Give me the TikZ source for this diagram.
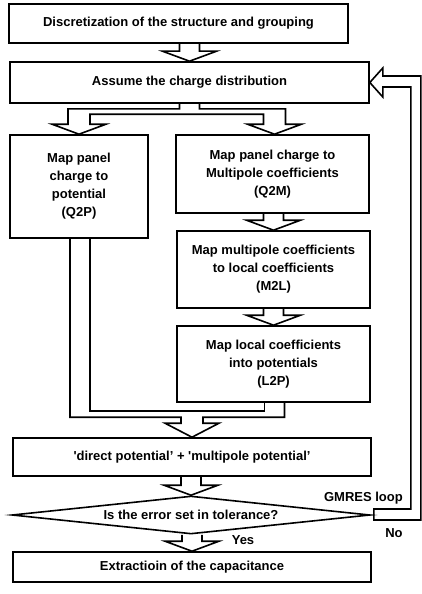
\documentclass[tikz,border=0pt]{standalone}
\usepackage{fontspec}
\setmainfont{Liberation Sans}
\usetikzlibrary{calc,shapes.geometric,backgrounds}
\newcommand\hdown[2]{% #1 = tip point, #2 = source node
  \path (#1) ++(-10,-10) coordinate (hdA) ++(20,0) coordinate (hdB);
  \draw[blk] (hdA |- #2.south) -- (hdA) -- ++(-17,0) -- (#1) -- ($(hdB)+(17,0)$) -- (hdB) -- (hdB |- #2.south);}
\begin{document}
\begin{tikzpicture}[x=1pt,y=-1pt,
  font=\fontsize{13}{18}\selectfont\bfseries,
  box/.style={draw, line width=1.6pt, inner sep=0pt, align=center},
  blk/.style={draw, line width=1.6pt, line join=miter},
  lbl/.style={inner sep=0pt}]
\useasboundingbox (0,0) rectangle (422,594);

\node[box, minimum width=339, minimum height=39] (b1) at (178.5,23.5) {Discretization of the structure and grouping};
\node[box, minimum width=359, minimum height=41] (b2) at (189.5,82.5) {Assume the charge distribution};
\node[box, minimum width=138, minimum height=103] (q2p) at (79,186.5) {Map panel\\charge to\\potential\\(Q2P)};
\node[box, minimum width=193, minimum height=78] (q2m) at (272.5,174) {Map panel charge to\\Multipole coefficients\\(Q2M)};
\node[box, minimum width=193, minimum height=77] (m2l) at (273.5,269.5) {Map multipole coefficients\\to local coefficients\\(M2L)};
\node[box, minimum width=193, minimum height=76] (l2p) at (273.5,364) {Map local coefficients\\into potentials\\(L2P)};
\node[box, minimum width=358, minimum height=38] (dp) at (192,457) {\textquotesingle direct potential' + \textquotesingle multipole potential'};
\node[box, diamond, aspect=9.4, minimum width=358, minimum height=38, fill=white] (dia) at (191,515) {Is the error set in tolerance?};
\node[box, minimum width=358, minimum height=30] (ext) at (192,567) {Extractioin of the capacitance};

\node[lbl, anchor=east] (gm) at (403,498) {GMRES loop};
\node[lbl] (no) at (394,533) {No};
\node[lbl] (yes) at (243,540) {Yes};

\begin{pgfonlayer}{background}
  \hdown{b2.north}{b1}
  \hdown{m2l.north}{q2m}
  \hdown{l2p.north}{m2l}
  \hdown{dia.north}{dp}
  \hdown{ext.north}{dia}
  % split arrow
  \draw[blk] ($(b2.south)+(-10,0)$) -- ++(0,5) -| ($(q2p.north)+(-11,-10)$) -- ++(-16,0) -- (q2p.north)
    -- ++(27,-10) -- ++(-16,0) |- ($(q2m.north)+(-9,-20)$) -- ++(0,10) -- ++(-16,0) -- ($(q2m.north)+(2,0)$)
    -- ++(27,-10) -- ++(-16,0) |- ($(b2.south)+(10,5)$) -- ++(0,-5);
  % merge arrow
  \draw[blk] ($(q2p.south)+(-9,0)$) |- ($(dp.north)+(-11,-20)$) -- ++(0,6) -- ++(-16,0) -- (dp.north)
    -- ++(27,-14) -- ++(-16,0) -- ++(0,-6) -| ($(l2p.south)+(11,0)$);
  \draw[blk] ($(q2p.south)+(11,0)$) |- ($(l2p.south)+(-9,8)$) -- ++(0,-8);
  % feedback arrow
  \draw[blk] (b2.east) -- ++(13,-14.5) -- ++(0,8) -| ($(dia.east)+(50,5)$) -- ($(dia.east)+(3,5)$)
    -- ($(dia.east)+(3,-6)$) -| ($(b2.east)+(41,4.5)$) -- ++(-28,0) -- ++(0,10) -- cycle;
\end{pgfonlayer}
\end{tikzpicture}
\end{document}
